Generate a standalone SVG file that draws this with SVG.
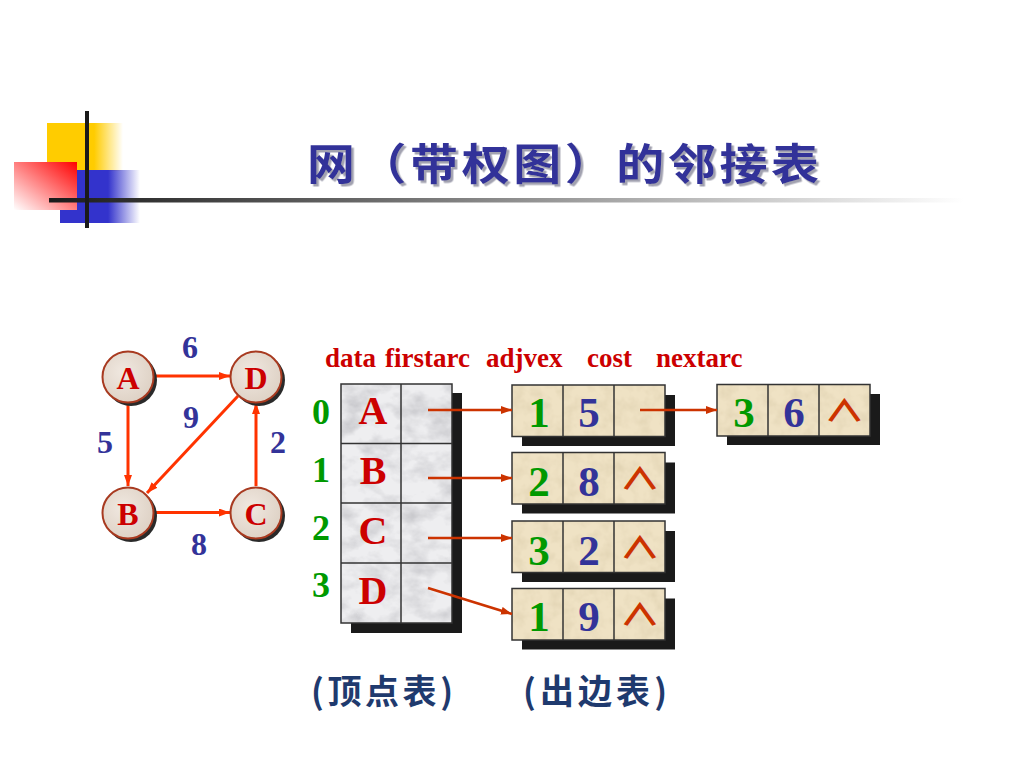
<svg xmlns="http://www.w3.org/2000/svg" width="1024" height="768" viewBox="0 0 1024 768">
  <defs>
    <style>
      .serif { font-family: "Liberation Serif", "Times New Roman", serif; font-weight: bold; }
      .hdr { font-size: 27px; fill: #CC0000; }
      .vlet { font-size: 40px; fill: #CC0000; text-anchor: middle; }
      .idx { font-size: 36px; fill: #009900; text-anchor: middle; }
      .adj { font-size: 43px; fill: #009900; text-anchor: middle; }
      .cst { font-size: 43px; fill: #333399; text-anchor: middle; }
      .nul { font-family: "Noto Sans CJK SC", "DejaVu Sans", sans-serif; font-weight: bold; font-size: 30px; fill: #CC3300; text-anchor: middle; }
      .nlet { font-size: 32px; fill: #CC0000; text-anchor: middle; }
      .wt { font-size: 32px; fill: #333399; text-anchor: middle; }
      .cell { stroke: #333333; stroke-width: 1.5; }
      .shadow { fill: #1A1A1A; }
      .gedge { stroke: #FF3300; stroke-width: 3; fill: none; marker-end: url(#ah1); }
      .tedge { stroke: #CC3300; stroke-width: 2.5; fill: none; marker-end: url(#ah2); }
      .cap { font-family: "Noto Sans CJK SC", "Noto Sans CJK TC", sans-serif; font-weight: bold; font-size: 34px; fill: #1F3A6E; }
    </style>
    <linearGradient id="gYellow" x1="0" y1="0" x2="1" y2="0">
      <stop offset="0" stop-color="#FFCC00"/>
      <stop offset="0.62" stop-color="#FFCC00"/>
      <stop offset="1" stop-color="#FFCC00" stop-opacity="0"/>
    </linearGradient>
    <linearGradient id="gBlue" x1="0" y1="0" x2="1" y2="0">
      <stop offset="0" stop-color="#3333CC"/>
      <stop offset="0.6" stop-color="#3333CC"/>
      <stop offset="1" stop-color="#3333CC" stop-opacity="0"/>
    </linearGradient>
    <linearGradient id="gRed" x1="1" y1="0" x2="0" y2="1">
      <stop offset="0" stop-color="#FF0000"/>
      <stop offset="0.55" stop-color="#FF8C8C"/>
      <stop offset="1" stop-color="#FFFFFF"/>
    </linearGradient>
    <linearGradient id="gLine" x1="0" y1="0" x2="1" y2="0">
      <stop offset="0" stop-color="#1A1A1A"/>
      <stop offset="1" stop-color="#FFFFFF"/>
    </linearGradient>
    <radialGradient id="gNode" cx="0.4" cy="0.4" r="0.7">
      <stop offset="0" stop-color="#F0E8E0"/>
      <stop offset="1" stop-color="#DCCFC2"/>
    </radialGradient>
    <filter id="titleShadow" x="-5%" y="-20%" width="110%" height="140%">
      <feDropShadow dx="2.5" dy="2.5" stdDeviation="0.6" flood-color="#9898A8" flood-opacity="0.9"/>
    </filter>
    <filter id="marble" x="0" y="0" width="1" height="1">
      <feTurbulence type="fractalNoise" baseFrequency="0.035 0.05" numOctaves="4" seed="7" result="n"/>
      <feColorMatrix in="n" type="matrix" values="0 0 0 0 0.45  0 0 0 0 0.45  0 0 0 0 0.48  1.4 0 0 0 -0.58" result="c"/>
      <feComposite in="c" in2="SourceAlpha" operator="in"/>
    </filter>
    <filter id="parch" x="0" y="0" width="1" height="1">
      <feTurbulence type="fractalNoise" baseFrequency="0.08" numOctaves="3" seed="3" result="n"/>
      <feColorMatrix in="n" type="matrix" values="0 0 0 0 0.72  0 0 0 0 0.62  0 0 0 0 0.42  1.2 0 0 0 -0.45" result="c"/>
      <feComposite in="c" in2="SourceAlpha" operator="in"/>
    </filter>
    <marker id="ah1" markerUnits="userSpaceOnUse" markerWidth="11" markerHeight="8" refX="11" refY="4" orient="auto">
      <path d="M0,0 L11,4 L0,8 z" fill="#FF3300"/>
    </marker>
    <marker id="ah2" markerUnits="userSpaceOnUse" markerWidth="11" markerHeight="8" refX="11" refY="4" orient="auto">
      <path d="M0,0 L11,4 L0,8 z" fill="#CC3300"/>
    </marker>
  </defs>

  <rect width="1024" height="768" fill="#FFFFFF"/>

  <!-- decoration -->
  <g id="decoration">
    <rect x="47" y="123" width="76" height="48" fill="url(#gYellow)"/>
    <rect x="60" y="170" width="80" height="53" fill="url(#gBlue)"/>
    <rect x="14" y="162" width="63" height="48" fill="url(#gRed)"/>
    <rect x="49" y="198" width="915" height="4.5" fill="url(#gLine)"/>
    <rect x="85" y="111" width="4" height="117" fill="#1A1A1A"/>
  </g>

  <!-- title -->
  <g id="title" filter="url(#titleShadow)">
    <text transform="translate(307,180) scale(1,0.9)" x="0" y="0" textLength="512" lengthAdjust="spacing" font-family="'Noto Sans CJK SC', 'Noto Sans CJK TC', sans-serif" font-weight="bold" font-size="48" fill="#333399">网（带权图）的邻接表</text>
  </g>

  <!-- graph connectors -->
  <g id="graph-edges">
    <line class="gedge" x1="154" y1="376" x2="230" y2="376"/>
    <line class="gedge" x1="128" y1="403" x2="128" y2="486"/>
    <line class="gedge" x1="154" y1="512.5" x2="230" y2="512.5"/>
    <line class="gedge" x1="256" y1="486" x2="256" y2="403"/>
    <line class="gedge" x1="238" y1="396" x2="147" y2="493"/>
  </g>

  <!-- graph nodes -->
  <g id="node-A">
    <circle cx="131" cy="380" r="26" fill="#2A2A2A"/>
    <circle cx="128" cy="377" r="25.5" fill="url(#gNode)" stroke="#A83A20" stroke-width="2"/>
    <text class="serif nlet" x="128" y="389">A</text>
  </g>
  <g id="node-D">
    <circle cx="259" cy="380" r="26" fill="#2A2A2A"/>
    <circle cx="256" cy="377" r="25.5" fill="url(#gNode)" stroke="#A83A20" stroke-width="2"/>
    <text class="serif nlet" x="256" y="389">D</text>
  </g>
  <g id="node-B">
    <circle cx="131" cy="516" r="26" fill="#2A2A2A"/>
    <circle cx="128" cy="513" r="25.5" fill="url(#gNode)" stroke="#A83A20" stroke-width="2"/>
    <text class="serif nlet" x="128" y="525">B</text>
  </g>
  <g id="node-C">
    <circle cx="259" cy="516" r="26" fill="#2A2A2A"/>
    <circle cx="256" cy="513" r="25.5" fill="url(#gNode)" stroke="#A83A20" stroke-width="2"/>
    <text class="serif nlet" x="256" y="525">C</text>
  </g>

  <g id="weights">
    <text class="serif wt" x="190" y="358">6</text>
    <text class="serif wt" x="191" y="428">9</text>
    <text class="serif wt" x="105" y="453">5</text>
    <text class="serif wt" x="278" y="453">2</text>
    <text class="serif wt" x="199" y="555">8</text>
  </g>

  <!-- header -->
  <g id="header">
    <text class="serif hdr" x="325" y="367">data</text>
    <text class="serif hdr" x="385" y="367">firstarc</text>
    <text class="serif hdr" x="486" y="367">adjvex</text>
    <text class="serif hdr" x="587" y="367">cost</text>
    <text class="serif hdr" x="656" y="367">nextarc</text>
  </g>

  <!-- vertex table -->
  <g id="vertex-table">
    <rect class="shadow" x="351" y="393" width="111" height="240"/>
    <rect x="341" y="384" width="111" height="239" fill="#EEEEF0"/>
    <rect x="341" y="384" width="111" height="239" fill="#FFFFFF" filter="url(#marble)"/>
    <rect class="cell" x="341" y="384" width="111" height="239" fill="none"/>
    <line class="cell" x1="401" y1="384" x2="401" y2="623"/>
    <line class="cell" x1="341" y1="443.5" x2="452" y2="443.5"/>
    <line class="cell" x1="341" y1="503" x2="452" y2="503"/>
    <line class="cell" x1="341" y1="563" x2="452" y2="563"/>
    <text class="serif vlet" x="373" y="424">A</text>
    <text class="serif vlet" x="373" y="484">B</text>
    <text class="serif vlet" x="373" y="544">C</text>
    <text class="serif vlet" x="373" y="604">D</text>
  </g>
  <g id="indices">
    <text class="serif idx" x="321" y="424">0</text>
    <text class="serif idx" x="321" y="482">1</text>
    <text class="serif idx" x="321" y="540">2</text>
    <text class="serif idx" x="321" y="597">3</text>
  </g>

  <!-- edge nodes -->
  <g id="arc-A1">
    <rect class="shadow" x="522" y="395" width="153" height="51"/>
    <rect x="512" y="385" width="153" height="51.5" fill="#EFE2C4"/>
    <rect x="512" y="385" width="153" height="51.5" fill="#FFFFFF" filter="url(#parch)"/>
    <rect class="cell" x="512" y="385" width="153" height="51.5" fill="none"/>
    <line class="cell" x1="563" y1="385" x2="563" y2="436.5"/>
    <line class="cell" x1="614" y1="385" x2="614" y2="436.5"/>
    <text class="serif adj" x="539" y="427">1</text>
    <text class="serif cst" x="589" y="427">5</text>
  </g>
  <g id="arc-A2">
    <rect class="shadow" x="727" y="394" width="153" height="51"/>
    <rect x="717" y="384.5" width="153" height="51.5" fill="#EFE2C4"/>
    <rect x="717" y="384.5" width="153" height="51.5" fill="#FFFFFF" filter="url(#parch)"/>
    <rect class="cell" x="717" y="384.5" width="153" height="51.5" fill="none"/>
    <line class="cell" x1="768" y1="384.5" x2="768" y2="436"/>
    <line class="cell" x1="819" y1="384.5" x2="819" y2="436"/>
    <text class="serif adj" x="744" y="427">3</text>
    <text class="serif cst" x="794" y="427">6</text>
    <text class="nul" transform="translate(844.5,421) scale(1.38,1)">∧</text>
  </g>
  <g id="arc-B">
    <rect class="shadow" x="522" y="462.5" width="153" height="51"/>
    <rect x="512" y="452.5" width="153" height="51.5" fill="#EFE2C4"/>
    <rect x="512" y="452.5" width="153" height="51.5" fill="#FFFFFF" filter="url(#parch)"/>
    <rect class="cell" x="512" y="452.5" width="153" height="51.5" fill="none"/>
    <line class="cell" x1="563" y1="452.5" x2="563" y2="504"/>
    <line class="cell" x1="614" y1="452.5" x2="614" y2="504"/>
    <text class="serif adj" x="539" y="496">2</text>
    <text class="serif cst" x="589" y="496">8</text>
    <text class="nul" transform="translate(640,489) scale(1.38,1)">∧</text>
  </g>
  <g id="arc-C">
    <rect class="shadow" x="522" y="531" width="153" height="51"/>
    <rect x="512" y="521" width="153" height="51.5" fill="#EFE2C4"/>
    <rect x="512" y="521" width="153" height="51.5" fill="#FFFFFF" filter="url(#parch)"/>
    <rect class="cell" x="512" y="521" width="153" height="51.5" fill="none"/>
    <line class="cell" x1="563" y1="521" x2="563" y2="572.5"/>
    <line class="cell" x1="614" y1="521" x2="614" y2="572.5"/>
    <text class="serif adj" x="539" y="565">3</text>
    <text class="serif cst" x="589" y="565">2</text>
    <text class="nul" transform="translate(640,557.5) scale(1.38,1)">∧</text>
  </g>
  <g id="arc-D">
    <rect class="shadow" x="522" y="598.5" width="153" height="51"/>
    <rect x="512" y="588.5" width="153" height="51.5" fill="#EFE2C4"/>
    <rect x="512" y="588.5" width="153" height="51.5" fill="#FFFFFF" filter="url(#parch)"/>
    <rect class="cell" x="512" y="588.5" width="153" height="51.5" fill="none"/>
    <line class="cell" x1="563" y1="588.5" x2="563" y2="640"/>
    <line class="cell" x1="614" y1="588.5" x2="614" y2="640"/>
    <text class="serif adj" x="539" y="631">1</text>
    <text class="serif cst" x="589" y="631">9</text>
    <text class="nul" transform="translate(640,625) scale(1.38,1)">∧</text>
  </g>

  <!-- table connectors -->
  <g id="table-edges">
    <line class="tedge" x1="428" y1="410" x2="512" y2="410"/>
    <line class="tedge" x1="428" y1="478" x2="512" y2="478"/>
    <line class="tedge" x1="428" y1="538" x2="512" y2="538"/>
    <line class="tedge" x1="428" y1="588" x2="512" y2="614"/>
    <line class="tedge" x1="640" y1="410" x2="717" y2="410"/>
  </g>

  <!-- captions -->
  <g id="captions">
    <text class="cap" x="311" y="704" textLength="142" lengthAdjust="spacing">(顶点表)</text>
    <text class="cap" x="523" y="704" textLength="144" lengthAdjust="spacing">(出边表)</text>
  </g>
</svg>
